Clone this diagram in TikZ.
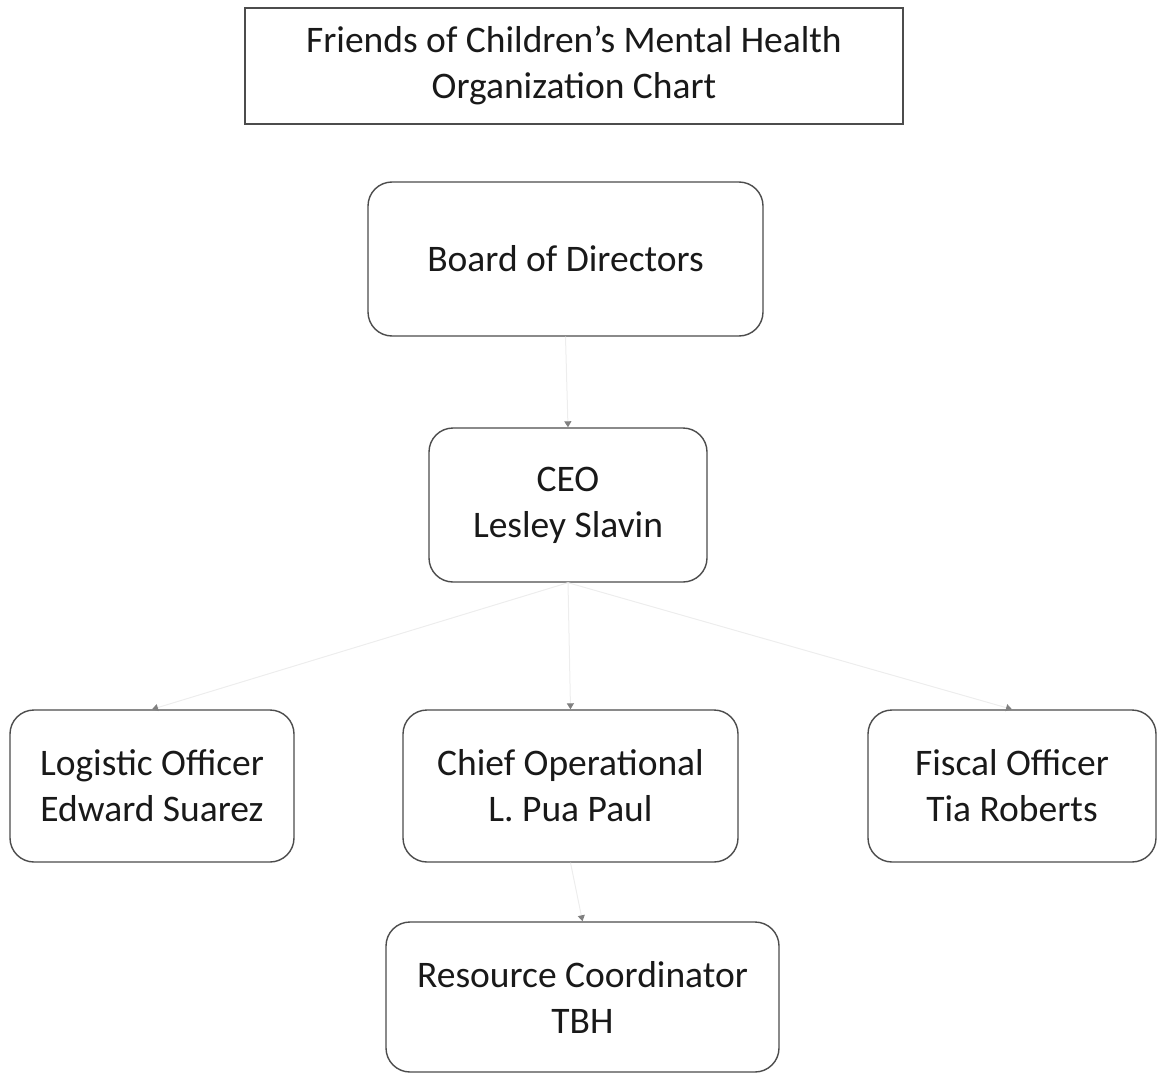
\documentclass[tikz,border=0pt]{standalone}
\usepackage{fontspec}
\setmainfont{Carlito}
\usetikzlibrary{arrows.meta}
\begin{document}
\begin{tikzpicture}[x=1pt,y=-1pt,
  box/.style={draw=black!70,line width=1.4pt,rounded corners=24pt,align=center,
    font=\fontsize{37.5}{46}\selectfont,text=black!90,inner sep=0pt},
  titlebox/.style={draw=black!70,line width=1.2pt,align=center,
    font=\fontsize{37.5}{46}\selectfont,text=black!90,inner sep=0pt},
  conn/.style={draw=black!7,line width=1pt,
    -{Triangle[width=7pt,length=6pt,color=black!50,fill=black!50]}}]
\useasboundingbox (0,0) rectangle (1157,1073);
\node[titlebox,minimum width=658pt,minimum height=116pt] (title) at (574,66) {Friends of Children’s Mental Health\\Organization Chart};
\node[box,minimum width=395pt,minimum height=154pt] (board) at (565.5,259) {Board of Directors};
\node[box,minimum width=278pt,minimum height=154pt] (ceo) at (568,505) {CEO\\Lesley Slavin};
\node[box,minimum width=284pt,minimum height=152pt] (log) at (152,786) {Logistic Officer\\Edward Suarez};
\node[box,minimum width=335pt,minimum height=152pt] (coo) at (570.5,786) {Chief Operational\\L. Pua Paul};
\node[box,minimum width=288pt,minimum height=152pt] (fis) at (1012,786) {Fiscal Officer\\Tia Roberts};
\node[box,minimum width=393pt,minimum height=150pt] (res) at (582.5,997) {Resource Coordinator\\TBH};
\draw[conn] (board.south) -- (ceo.north);
\draw[conn] (ceo.south) -- (coo.north);
\draw[conn] (ceo.south) -- (log.north);
\draw[conn] (ceo.south) -- (fis.north);
\draw[conn] (coo.south) -- (res.north);
\end{tikzpicture}
\end{document}
